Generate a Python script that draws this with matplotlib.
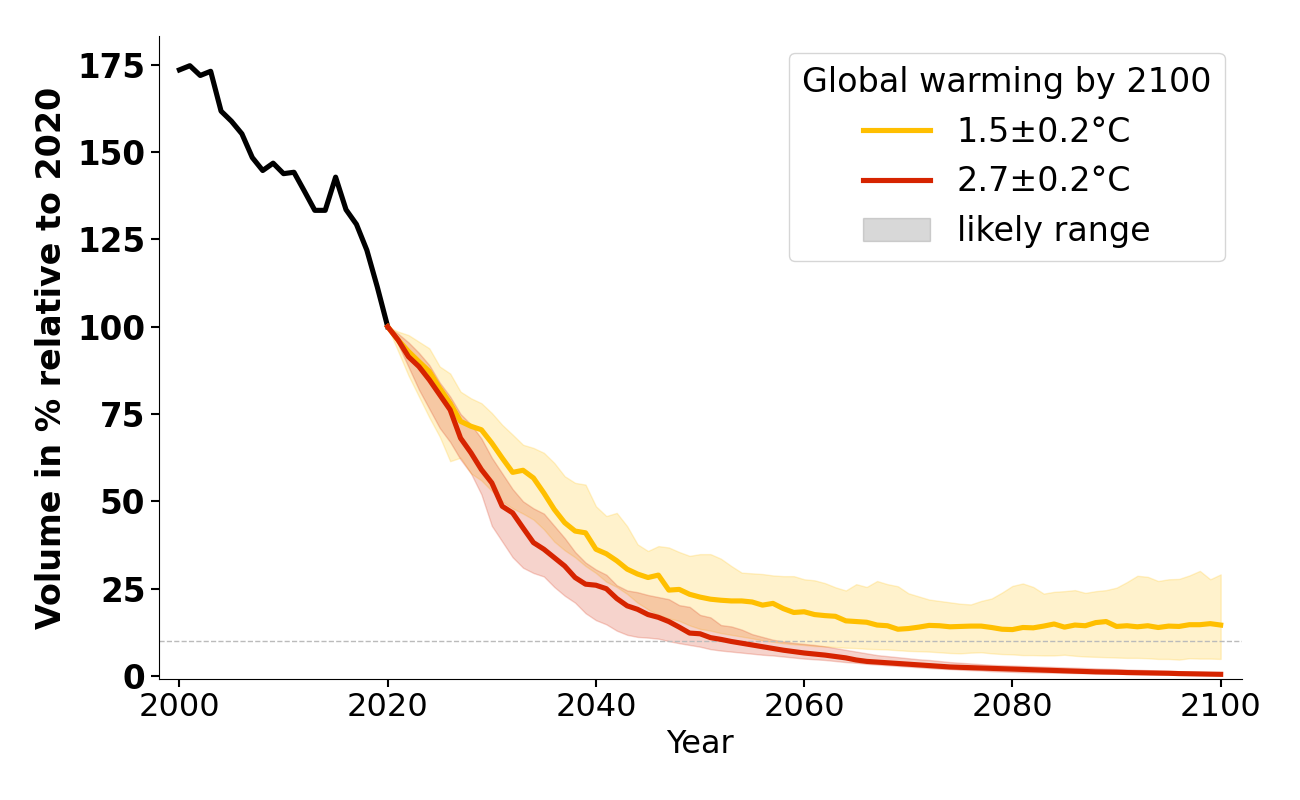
import numpy as np
import matplotlib
matplotlib.use("Agg")
import matplotlib.pyplot as plt
from matplotlib.patches import Patch

# observed glacier volume, % of 2020
years_obs = np.arange(2000, 2021)
vol_obs = [173.5, 174.7, 171.9, 173.1, 161.7, 158.8, 155.2, 148.4, 144.7, 146.8,
           143.8, 144.2, 138.8, 133.3, 133.3, 142.8, 133.5, 129.3, 121.9, 111.4,
           100.0]

years_proj = np.arange(2020, 2101)

# 1.5 +- 0.2 C scenario: median and likely range
med_15 = [100, 96.2, 92.9, 90.0, 87.2, 82.4, 78.1, 72.9, 71.5, 70.5,
          66.7, 62.4, 58.3, 58.9, 56.7, 52.4, 47.7, 43.9, 41.5, 41.0,
          36.3, 35.0, 33.0, 30.6, 29.2, 28.2, 28.9, 24.6, 24.8, 23.4,
          22.6, 22.0, 21.7, 21.5, 21.5, 21.2, 20.3, 20.8, 19.3, 18.2,
          18.4, 17.6, 17.3, 17.1, 15.8, 15.6, 15.4, 14.6, 14.4, 13.4,
          13.6, 14.0, 14.5, 14.4, 14.1, 14.2, 14.3, 14.3, 13.9, 13.4,
          13.3, 13.9, 13.8, 14.3, 14.9, 14.0, 14.6, 14.4, 15.3, 15.6,
          14.2, 14.4, 14.1, 14.4, 13.9, 14.3, 14.2, 14.7, 14.7, 15.0,
          14.6]
hi_15 = [100, 98.6, 97.6, 95.7, 93.8, 88.6, 86.6, 81.4, 79.5, 78.1,
         75.3, 71.9, 69.1, 66.2, 65.3, 63.9, 61.0, 57.2, 55.3, 54.8,
         48.6, 45.8, 46.7, 42.9, 37.7, 35.8, 37.2, 36.8, 35.5, 34.4,
         34.9, 34.9, 33.6, 31.5, 29.6, 29.4, 29.2, 28.8, 28.6, 28.6,
         27.7, 27.4, 26.6, 25.4, 24.5, 26.3, 25.5, 27.2, 26.3, 25.7,
         23.7, 22.8, 21.9, 21.5, 21.1, 20.7, 20.5, 21.5, 22.2, 23.9,
         25.8, 26.5, 25.5, 23.6, 24.1, 24.3, 24.6, 23.8, 24.3, 24.6,
         25.3, 26.9, 28.7, 28.4, 27.2, 27.7, 27.8, 28.8, 30.1, 27.7,
         29.1]
lo_15 = [100, 93, 86, 80, 74, 68.5, 61.5, 62.5, 58, 56,
         53, 50, 48, 46.5, 44.8, 42, 38.5, 36, 34, 31.5,
         29.5, 27, 25.5, 23.5, 21, 19.1, 17.5, 16.5, 15.8, 14.5,
         13.5, 13, 12.3, 11.8, 11.3, 10.8, 10.2, 9.8, 9.4, 9.1,
         8.9, 8.6, 8.5, 8.3, 8.1, 8.0, 7.8, 7.7, 7.6, 7.4,
         7.2, 7.1, 7.0, 6.8, 6.6, 6.5, 6.7, 6.8, 6.5, 6.3,
         6.2, 6.0, 6.0, 5.9, 5.9, 6.1, 5.8, 5.6, 5.5, 5.4,
         5.3, 5.2, 5.2, 5.1, 4.9, 4.9, 4.7, 5.1, 5.0, 5.0,
         4.9]

# 2.7 +- 0.2 C scenario
med_27 = [100, 96.2, 91.4, 88.6, 84.8, 80.5, 76.2, 68.1, 63.9, 59.1,
          55.3, 48.6, 46.7, 42.4, 38.2, 36.3, 33.9, 31.5, 28.2, 26.3,
          26.0, 25.0, 22.2, 20.1, 19.1, 17.6, 16.8, 15.6, 14.0, 12.3,
          12.1, 11.0, 10.5, 9.9, 9.4, 8.9, 8.4, 7.9, 7.4, 7.0,
          6.6, 6.3, 6.0, 5.6, 5.2, 4.6, 4.2, 4.0, 3.8, 3.6,
          3.4, 3.2, 3.0, 2.8, 2.6, 2.5, 2.4, 2.3, 2.2, 2.1,
          2.0, 1.9, 1.8, 1.7, 1.6, 1.5, 1.4, 1.3, 1.2, 1.15,
          1.1, 1.0, 0.95, 0.9, 0.85, 0.8, 0.7, 0.65, 0.6, 0.55,
          0.5]
hi_27 = [100, 98, 95.5, 92.5, 89, 84, 80, 75, 72, 68,
         62.5, 58, 53.5, 50, 48, 46.5, 43, 39.5, 35.5, 32.5,
         30.5, 29, 26, 24.5, 24, 23.2, 22.6, 22, 20.3, 19.8,
         17.5, 16.8, 14.6, 14.2, 13.3, 12.0, 11.2, 10.4, 9.9, 9.5,
         9.2, 8.9, 8.5, 8.0, 7.5, 7.0, 6.5, 6.0, 5.7, 5.4,
         5.1, 4.8, 4.6, 4.3, 4.0, 3.8, 3.6, 3.4, 3.2, 3.1,
         3.0, 2.9, 2.8, 2.7, 2.6, 2.5, 2.4, 2.3, 2.2, 2.1,
         2.0, 1.9, 1.8, 1.7, 1.6, 1.5, 1.4, 1.3, 1.2, 1.1,
         1.0]
lo_27 = [100, 95, 88.5, 82, 76.5, 71, 67, 62, 58, 52,
         43, 38.5, 34, 31, 29.5, 28.5, 25.5, 23, 21, 18,
         16, 14.8, 13, 11.8, 11.2, 11.0, 10.7, 10.0, 9.4, 8.9,
         8.4, 7.7, 7.3, 7.0, 6.7, 6.4, 6.1, 5.9, 5.6, 5.3,
         5.0, 4.8, 4.6, 4.3, 4.0, 3.8, 3.5, 3.3, 3.1, 2.9,
         2.7, 2.5, 2.3, 2.1, 2.0, 1.8, 1.7, 1.6, 1.4, 1.3,
         1.2, 1.1, 1.05, 1.0, 0.95, 0.9, 0.85, 0.8, 0.75, 0.7,
         0.65, 0.6, 0.55, 0.5, 0.45, 0.42, 0.38, 0.35, 0.3, 0.25,
         0.2]

c15 = "#ffbf00"
c27 = "#d62400"

fig = plt.figure(figsize=(13, 8), dpi=100)
ax = fig.add_axes([0.122, 0.151, 0.833, 0.804])

# likely ranges
ax.fill_between(years_proj, lo_15, hi_15, color=c15, alpha=0.2)
ax.fill_between(years_proj, lo_27, hi_27, color=c27, alpha=0.2)

ax.axhline(10, color="#bbbbbb", lw=1, ls="--", zorder=1)

ax.plot(years_obs, vol_obs, color="black", lw=3.7)
ax.plot(years_proj, med_15, color=c15, lw=3.7)
ax.plot(years_proj, med_27, color=c27, lw=3.7)

ax.set_xlim(1998, 2102)
ax.set_ylim(-0.9, 183.2)
ax.set_yticks([0, 25, 50, 75, 100, 125, 150, 175])
ax.set_xticks([2000, 2020, 2040, 2060, 2080, 2100])

ax.spines["top"].set_visible(False)
ax.spines["right"].set_visible(False)
ax.tick_params(axis="both", length=6, width=1.5)
ax.tick_params(axis="x", labelsize=23)
ax.tick_params(axis="y", labelsize=23.5)
for lab in ax.get_yticklabels():
    lab.set_fontweight("bold")

ax.set_xlabel("Year", fontsize=23)
ax.set_ylabel("Volume in % relative to 2020", fontsize=24, fontweight="bold",
              labelpad=7)

handles = [
    plt.Line2D([], [], color=c15, lw=3.7),
    plt.Line2D([], [], color=c27, lw=3.7),
    Patch(color="grey", alpha=0.3),
]
labels = ["1.5±0.2°C", "2.7±0.2°C", "likely range"]
ax.legend(handles, labels, title="Global warming by 2100", loc="upper right",
          fontsize=24, title_fontsize=24)

plt.savefig("out.png")
